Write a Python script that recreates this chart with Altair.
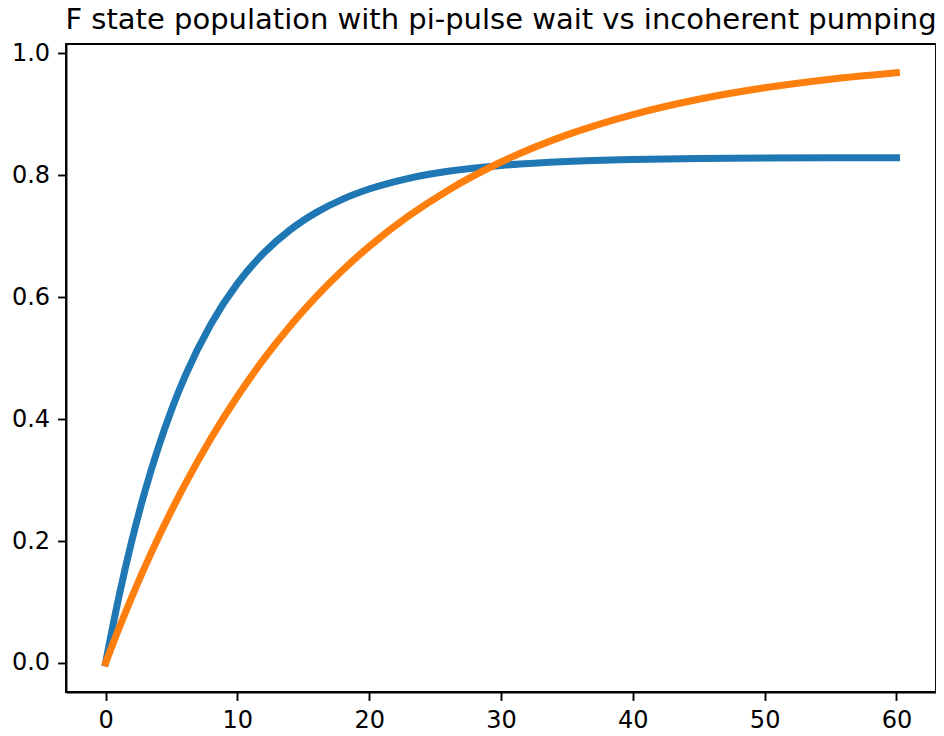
import altair as alt
import pandas as pd

t_values = [0, 1, 2, 3, 4, 5, 6, 8, 10, 12, 14, 16, 18, 20, 23, 26, 30, 35, 40, 45, 50, 55, 60]
pi_pulse_wait = [0.0, 0.1075, 0.2011, 0.2825, 0.3533, 0.4150, 0.4687, 0.5561, 0.6223, 0.6724,
                 0.7104, 0.7391, 0.7609, 0.7774, 0.7950, 0.8066, 0.8161, 0.8226, 0.8258,
                 0.8274, 0.8282, 0.8286, 0.8288]
incoherent = [0.0, 0.0559, 0.1086, 0.1584, 0.2054, 0.2498, 0.2917, 0.3686, 0.4371, 0.4983,
              0.5527, 0.6013, 0.6446, 0.6832, 0.7333, 0.7756, 0.8217, 0.8662, 0.8996,
              0.9247, 0.9435, 0.9576, 0.9682]
series_names = ["pi-pulse wait", "incoherent pumping"]
series_colors = ["#1f77b4", "#ff7f0e"]
x_ticks = [0, 10, 20, 30, 40, 50, 60]
y_ticks = [0.0, 0.2, 0.4, 0.6, 0.8, 1.0]

rows = []
for t, v in zip(t_values, pi_pulse_wait):
    rows.append({"t": t, "value": v, "series": series_names[0], "order": 0})
for t, v in zip(t_values, incoherent):
    rows.append({"t": t, "value": v, "series": series_names[1], "order": 1})
df = pd.DataFrame(rows)

FONT = "DejaVu Sans"

chart = (
    alt.Chart(df)
    .mark_line(strokeWidth=7, interpolate="monotone", strokeCap="square", clip=True)
    .encode(
        x=alt.X("t:Q", scale=alt.Scale(domain=[-3, 63], nice=False, zero=False),
                axis=alt.Axis(values=x_ticks, format="d", title=None)),
        y=alt.Y("value:Q", scale=alt.Scale(domain=[-0.0476, 1.0153], nice=False, zero=False),
                axis=alt.Axis(values=y_ticks, format=".1f", title=None)),
        color=alt.Color("series:N", scale=alt.Scale(domain=series_names, range=series_colors), legend=None),
        detail="series:N",
        order=alt.Order("order:Q"),
    )
    .properties(
        width=870,
        height=648,
        autosize=alt.AutoSizeParams(type="none"),
        padding={"left": 58, "top": 36, "right": 0, "bottom": 36},
        title=alt.TitleParams(
            "F state population with pi-pulse wait vs incoherent pumping",
            font=FONT, fontSize=29, fontWeight="normal", color="black",
            anchor="middle", frame="group", offset=6,
        ),
    )
    .configure_view(stroke="black", strokeWidth=1.9)
    .configure_axis(
        grid=False,
        domainColor="black", domainWidth=1.9,
        tickColor="black", tickWidth=1.9, tickSize=8.4,
        labelFont=FONT, labelFontSize=24, labelColor="black",
        labelPadding=8,
    )
)

chart.save("out.html", embed_options={"renderer": "svg", "actions": False})
